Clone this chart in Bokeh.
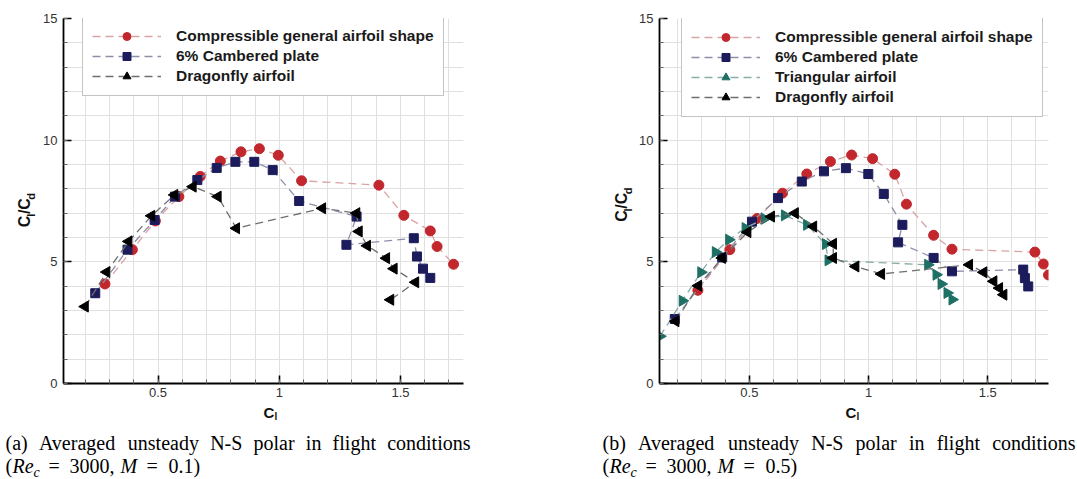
import numpy as np
from bokeh.plotting import figure
from bokeh.layouts import row, column
from bokeh.models import FixedTicker, CustomJSTickFormatter, Label, Range1d
from bokeh.embed import file_html
from bokeh.resources import INLINE

# ---------------- data ----------------
# Panel (a): Re_c = 3000, M = 0.1
cga_a_cl = [0.281, 0.394, 0.489, 0.586, 0.674, 0.757, 0.842, 0.918, 0.996, 1.092, 1.411, 1.514, 1.623, 1.651, 1.719]
cga_a_ld = [4.09, 5.50, 6.68, 7.68, 8.51, 9.14, 9.52, 9.65, 9.38, 8.33, 8.15, 6.91, 6.27, 5.63, 4.90]
cp_a_cl = [0.241, 0.374, 0.486, 0.570, 0.662, 0.742, 0.819, 0.897, 0.973, 1.082, 1.319, 1.277, 1.555, 1.568, 1.593, 1.623]
cp_a_ld = [3.71, 5.50, 6.72, 7.68, 8.36, 8.86, 9.11, 9.11, 8.77, 7.50, 6.86, 5.70, 5.97, 5.22, 4.72, 4.34]
df_a_cl = [0.199, 0.288, 0.379, 0.473, 0.568, 0.644, 0.747, 0.823, 1.178, 1.319, 1.329, 1.363, 1.442, 1.473, 1.562, 1.459]
df_a_ld = [3.16, 4.58, 5.84, 6.89, 7.75, 8.09, 7.68, 6.38, 7.20, 7.00, 6.25, 5.66, 5.15, 4.72, 4.16, 3.44]

# Panel (b): Re_c = 3000, M = 0.5
cga_b_cl = [0.284, 0.418, 0.532, 0.639, 0.741, 0.840, 0.929, 1.017, 1.110, 1.159, 1.273, 1.350, 1.698, 1.734, 1.755]
cga_b_ld = [3.83, 5.50, 6.78, 7.82, 8.61, 9.12, 9.39, 9.24, 8.60, 7.37, 6.09, 5.52, 5.40, 4.91, 4.46]
cp_b_cl = [0.187, 0.386, 0.511, 0.620, 0.720, 0.813, 0.905, 0.999, 1.064, 1.142, 1.124, 1.273, 1.350, 1.649, 1.656, 1.670]
cp_b_ld = [2.65, 5.18, 6.65, 7.62, 8.30, 8.72, 8.85, 8.61, 7.79, 6.52, 5.80, 5.16, 4.61, 4.68, 4.33, 3.99]
tri_b_cl = [0.125, 0.219, 0.297, 0.358, 0.414, 0.483, 0.564, 0.648, 0.741, 0.820, 0.831, 1.249, 1.284, 1.305, 1.330, 1.351]
tri_b_ld = [1.94, 3.40, 4.57, 5.40, 5.91, 6.39, 6.77, 6.91, 6.52, 5.73, 5.06, 4.88, 4.47, 4.09, 3.72, 3.45]
df_b_cl = [0.191, 0.286, 0.386, 0.493, 0.592, 0.692, 0.769, 0.852, 0.852, 0.946, 1.054, 1.423, 1.483, 1.525, 1.549, 1.567]
df_b_ld = [2.56, 4.02, 5.16, 6.22, 6.86, 7.00, 6.45, 5.74, 5.16, 4.81, 4.50, 4.88, 4.57, 4.20, 3.92, 3.65]

series_names = ["Compressible general airfoil shape", "6% Cambered plate",
                "Triangular airfoil", "Dragonfly airfoil"]
x_major = [0.5, 1.0, 1.5]
y_major = [0, 5, 10, 15]
caption_line1 = ["(a) Averaged unsteady N-S polar in flight conditions",
                 "(b) Averaged unsteady N-S polar in flight conditions"]
mach_text = ["0.1)", "0.5)"]

# ---------------- styles ----------------
SANS = "Liberation Sans"
SERIF = "Liberation Serif"
STYLE = {
    "Compressible general airfoil shape": dict(marker="circle", color="#c1272d", line="#d8a4a4", size=10, angle=0.0),
    "6% Cambered plate": dict(marker="square", color="#1c1c5c", line="#8e8eaa", size=9, angle=0.0),
    "Triangular airfoil": dict(marker="triangle", color="#1e6f64", line="#8aaca6", size=11, angle=-np.pi / 2),
    "Dragonfly airfoil": dict(marker="triangle", color="#000000", line="#6e6e6e", size=11, angle=np.pi / 2),
}

TW = {' ': 0.25, '(': 0.333, ')': 0.333, 'a': 0.444, 'b': 0.5, 'A': 0.722, 'v': 0.5, 'e': 0.444,
      'r': 0.333, 'g': 0.5, 'd': 0.5, 'u': 0.5, 'n': 0.5, 's': 0.389, 't': 0.278, 'y': 0.5,
      'N': 0.722, '-': 0.333, 'S': 0.556, 'p': 0.5, 'o': 0.5, 'l': 0.278, 'i': 0.278, 'f': 0.333,
      'h': 0.5, 'c': 0.444}

ROW1_H = 405
TOTAL_H = 479
BASE_K = 0.36   # observed baseline offset of labels, as a fraction of the font size


def blank(width, height):
    f = figure(width=width, height=height, output_backend="svg", toolbar_location=None,
               x_range=Range1d(0, width), y_range=Range1d(height, 0),
               x_axis_location=None, y_axis_location=None,
               min_border=0, min_border_left=0, min_border_right=0,
               min_border_top=0, min_border_bottom=0,
               background_fill_color="white", border_fill_color="white")
    f.outline_line_color = None
    f.grid.visible = False
    return f


def txt(f, x, y, text, font, size, style="normal", rotated=False, color="black"):
    # (x, y): wanted baseline start, in local pixels (y downwards)
    if rotated:
        x = x - BASE_K * size
        angle = np.pi / 2
    else:
        y = y - BASE_K * size
        angle = 0.0
    f.add_layout(Label(x=x, y=y, text=text, angle=angle, text_font=font, text_font_style=style,
                       text_font_size=f"{size}px", text_color=color, text_align="left",
                       text_baseline="alphabetic"))


def make_plot(ox, width, frame, xr, data, legend_left, legend_top):
    fl, fr, ft, fb = frame          # frame edges in page pixels
    p = figure(width=width, height=ROW1_H, output_backend="svg", toolbar_location=None,
               x_range=Range1d(*xr), y_range=Range1d(0, 15),
               min_border_left=fl - ox, min_border_right=ox + width - fr,
               min_border_top=ft, min_border_bottom=ROW1_H - fb,
               background_fill_color="white", border_fill_color="white")
    p.outline_line_color = None

    p.xaxis.ticker = FixedTicker(ticks=x_major, minor_ticks=[round(0.1 * k, 1) for k in range(1, 18)])
    p.yaxis.ticker = FixedTicker(ticks=y_major, minor_ticks=list(range(0, 16)))
    p.xaxis.formatter = CustomJSTickFormatter(code="return String(tick)")
    for ax in (p.xaxis[0], p.yaxis[0]):
        ax.axis_line_color = "black"
        ax.axis_line_width = 1.8
        ax.major_tick_in = 8
        ax.major_tick_out = 0
        ax.minor_tick_in = 4
        ax.minor_tick_out = 0
        ax.major_tick_line_width = 1.6
        ax.major_tick_line_color = "black"
        ax.minor_tick_line_color = "#666666"
        ax.major_label_text_font = SANS
        ax.major_label_text_font_size = "13px"
        ax.major_label_text_color = "#333333"
    p.yaxis.major_label_standoff = 6
    p.xaxis.major_label_standoff = 4
    for g in (p.xgrid[0], p.ygrid[0]):
        g.grid_line_color = "#e0e0e0"
        g.minor_grid_line_color = "#e0e0e0"
        g.grid_line_width = 1
        g.minor_grid_line_width = 1

    for name, (xs, ys) in data:
        st = STYLE[name]
        p.line(xs, ys, line_color=st["line"], line_width=1.3, line_dash="8 5", legend_label=name)
        p.scatter(xs, ys, marker=st["marker"], size=st["size"], angle=st["angle"],
                  fill_color=st["color"], line_color=st["color"], legend_label=name)

    lg = p.legend[0]
    lg.label_text_font = SANS
    lg.label_text_font_style = "bold"
    lg.label_text_font_size = "15.5px"
    lg.label_text_color = "#1a1a1a"
    gh = 20
    pad = 9
    lg.glyph_width = 69
    lg.glyph_height = gh
    lg.label_height = gh
    lg.spacing = 0
    lg.padding = pad
    lg.margin = 0
    lg.label_standoff = 15
    lg.border_line_color = "#8a8a8a"
    lg.border_line_width = 1
    lg.background_fill_color = "white"
    lg.background_fill_alpha = 1.0
    leg_h = len(data) * gh + 2 * pad
    lg.location = (legend_left - fl, (fb - legend_top) - leg_h)
    return p


def ylabel_fig(width, anchor_x, cy):
    f = blank(width, ROW1_H)
    pieces = [("C", 16, 0.0, 0), ("l", 11, 11.6, 4), ("/C", 16, 14.6, 0), ("d", 11, 30.6, 4)]
    total = 37.3
    sy = cy + total / 2
    for t, fs, off, dx in pieces:
        txt(f, anchor_x + dx, sy - off, t, SANS, fs, "bold", True, "#111111")
    return f


def caption_fig(ox, width, idx, xlab_x, cap_x0, cap_x1):
    h = TOTAL_H - ROW1_H
    f = blank(width, h)
    oy = ROW1_H
    # x axis label C_l
    txt(f, xlab_x - ox, 417 - oy, "C", SANS, 15, "bold", color="#111111")
    txt(f, xlab_x + 11 - ox, 420 - oy, "l", SANS, 10, "bold", color="#111111")
    # caption line 1, justified between cap_x0 and cap_x1
    fs = 20
    words = caption_line1[idx].split()
    nat = [sum(TW[c] for c in w) * fs for w in words]
    extra = ((cap_x1 - cap_x0) - sum(nat)) / (len(words) - 1)
    xcur = cap_x0
    for w, wd in zip(words, nat):
        txt(f, xcur - ox, 450 - oy, w, SERIF, fs)
        xcur += wd + extra
    # caption line 2
    parts = [("(", 0, "normal", 20, 0), ("Re", 7, "italic", 20, 0), ("c", 28, "italic", 14, 4),
             ("=", 43, "normal", 20, 0), ("3000,", 64, "normal", 20, 0), ("M", 115, "italic", 20, 0),
             ("=", 141, "normal", 20, 0), (mach_text[idx], 163, "normal", 20, 0)]
    for t, off, sty, fsz, dy in parts:
        txt(f, cap_x0 + off - ox, 473 + dy - oy, t, SERIF, fsz, sty)
    return f


yl1 = ylabel_fig(36, 30, 213)
p1 = make_plot(36, 492, (63, 463, 16, 383), (0.11, 1.76),
               [(series_names[0], (cga_a_cl, cga_a_ld)),
                (series_names[1], (cp_a_cl, cp_a_ld)),
                (series_names[3], (df_a_cl, df_a_ld))],
               82, 18)
yl2 = ylabel_fig(108, 627 - 528, 207)
p2 = make_plot(636, 441, (657, 1048, 18, 384), (0.123, 1.755),
               [(series_names[0], (cga_b_cl, cga_b_ld)),
                (series_names[1], (cp_b_cl, cp_b_ld)),
                (series_names[2], (tri_b_cl, tri_b_ld)),
                (series_names[3], (df_b_cl, df_b_ld))],
               679, 20)
cap1 = caption_fig(0, 528, 0, 263, 5, 470)
cap2 = caption_fig(528, 549, 1, 845, 602, 1075)

layout = column(row(yl1, p1, yl2, p2), row(cap1, cap2))
open("out.html", "w").write(file_html(layout, INLINE))
